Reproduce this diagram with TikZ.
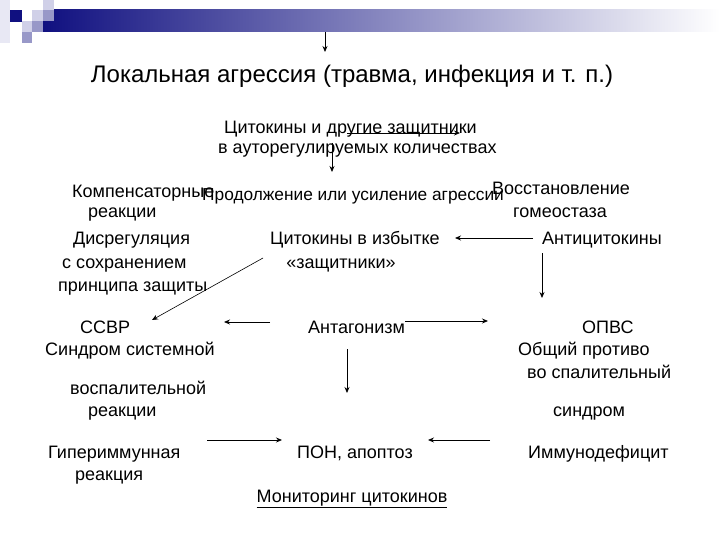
\documentclass[tikz,border=0pt]{standalone}
\usepackage{fontspec}
\setmainfont{Liberation Sans}
\usetikzlibrary{arrows.meta}
\definecolor{navy}{RGB}{16,16,128}
\definecolor{midlav}{RGB}{112,112,176}
\definecolor{sqlight}{RGB}{208,208,232}
\definecolor{sqmed}{RGB}{152,152,200}
\definecolor{sqpale}{RGB}{232,232,244}
\tikzset{
  txt/.style={anchor=west, inner sep=0pt, font=\fontsize{18}{21}\selectfont, text height=13pt, text depth=4pt, yshift=-2pt},
  ctxt/.style={txt, anchor=center},
  arr/.style={-{Stealth[length=6pt,width=5pt]}, line width=0.8pt, black},
  arrthin/.style={-{Stealth[length=6pt,width=5pt]}, line width=0.6pt, black}
}
\begin{document}
\begin{tikzpicture}[x=1pt,y=-1pt]
\useasboundingbox (0,0) rectangle (720,540);
\fill[white] (0,0) rectangle (720,540);
% banner
\shade[left color=navy, middle color=midlav, right color=white] (43,10) rectangle (720,32);
\fill[sqpale] (0,0) rectangle (10,43);
\fill[sqlight] (43,0) rectangle (54,10);
\fill[navy] (10,10) rectangle (22,22);
\fill[sqlight] (32,10) rectangle (43,21);
\fill[sqmed] (43,10) rectangle (54,21);
\fill[sqlight] (22,21) rectangle (32,32);
\fill[sqmed] (32,21) rectangle (43,32);
\fill[sqmed] (22,32) rectangle (32,43);

% title
\node[anchor=center, inner sep=0pt, font=\fontsize{24}{28}\selectfont] (title) at (352,76) {Локальная агрессия (травма, инфекция и т. п.)};

\node[txt] (c1) at (224,127) {Цитокины и другие защитники};
\node[txt] (c2) at (218,147) {в ауторегулируемых количествах};

\node[txt] (comp1) at (72,191) {Компенсаторные};
\node[txt] (comp2) at (88,211) {реакции};
\node[txt, font=\fontsize{17.3}{21}\selectfont] (prod) at (202,194) {Продолжение или усиление агрессии};
\node[txt] (vos1) at (492,188) {Восстановление};
\node[txt] (vos2) at (513,211) {гомеостаза};

\node[txt] (dis1) at (73,238) {Дисрегуляция};
\node[txt] (dis2) at (62,262) {с сохранением};
\node[txt] (dis3) at (58,285) {принципа защиты};
\node[txt] (cyt1) at (270,238) {Цитокины в избытке};
\node[ctxt] (cyt2) at (341,262) {«защитники»};
\node[txt] (anti) at (542,238) {Антицитокины};

\node[txt] (ssvr) at (80,327) {ССВР};
\node[txt] (ssvr2) at (45,349) {Синдром системной};
\node[txt] (vosp) at (70,388) {воспалительной};
\node[txt] (reak) at (88,410) {реакции};
\node[txt] (antag) at (308,327) {Антагонизм};
\node[txt] (opvs) at (582,327) {ОПВС};
\node[txt] (ob1) at (518,349) {Общий противо};
\node[txt] (ob2) at (527,372) {во спалительный};
\node[txt] (sin) at (553,410) {синдром};

\node[txt] (hyp1) at (48,452) {Гипериммунная};
\node[txt] (hyp2) at (75,474) {реакция};
\node[txt] (pon) at (297,452) {ПОН, апоптоз};
\node[txt] (imm) at (528,452) {Иммунодефицит};
\node[ctxt] (mon) at (352,496) {\underline{Мониторинг цитокинов}};

% arrow ends
\coordinate (b0) at (325,32);   \coordinate (b1) at (325,52);
\coordinate (h0) at (347,133);  \coordinate (h1) at (460,133);
\coordinate (v0) at (332,143);  \coordinate (v1) at (332,172);
\coordinate (a0) at (533,238);  \coordinate (a1) at (455,238);
\coordinate (d0) at (542,253);  \coordinate (d1) at (542,298);
\coordinate (g0) at (263,258);  \coordinate (g1) at (152,320);
\coordinate (l0) at (270,322);  \coordinate (l1) at (224,322);
\coordinate (r0) at (405,321);  \coordinate (r1) at (488,321);
\coordinate (m0) at (347,349);  \coordinate (m1) at (347,393);
\coordinate (p0) at (207,440);  \coordinate (p1) at (282,440);
\coordinate (q0) at (490,440);  \coordinate (q1) at (428,440);

\draw[arr] (b0) -- (b1);
\draw[arr] (h0) -- (h1);
\draw[arr] (v0) -- (v1);
\draw[arr] (a0) -- (a1);
\draw[arr] (d0) -- (d1);
\draw[arrthin] (g0) -- (g1);
\draw[arr] (l0) -- (l1);
\draw[arr] (r0) -- (r1);
\draw[arr] (m0) -- (m1);
\draw[arr] (p0) -- (p1);
\draw[arr] (q0) -- (q1);
\end{tikzpicture}
\end{document}
